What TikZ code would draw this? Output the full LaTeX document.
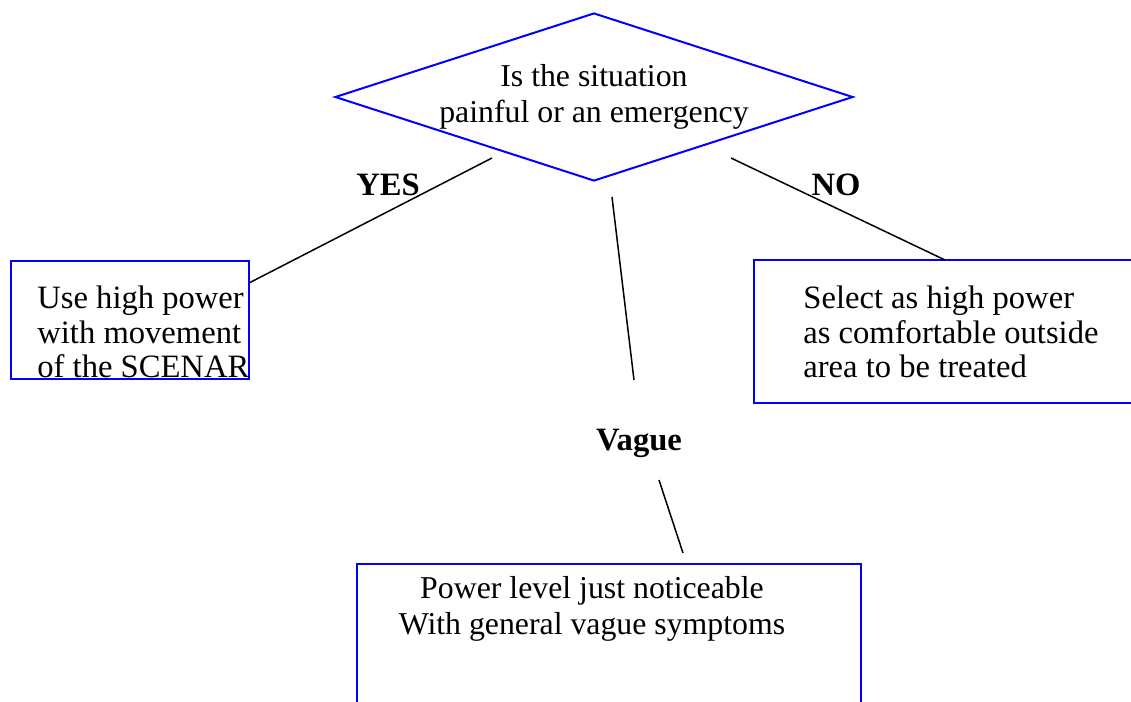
\documentclass[tikz,border=0pt]{standalone}
\usepackage{fontspec}
\setmainfont{Liberation Serif}
\usetikzlibrary{positioning, shapes.geometric}

\tikzset{
  box/.style={draw=blue, line width=1pt, inner sep=0pt},
  boxtext/.style={font=\fontsize{16.3}{17.3}\selectfont, align=left, inner sep=0pt},
  answer/.style={font=\fontsize{16.3}{17.3}\selectfont\bfseries, inner sep=0pt},
  link/.style={black, line width=0.75pt}
}

\begin{document}
\begin{tikzpicture}[x=0.5pt, y=-0.5pt]
    \clip (0,0) rectangle (1131,702);

    % Draw question
    \node[diamond, draw=blue, line width=1pt, minimum width=259pt, minimum height=84pt, aspect=3.08, inner sep=0pt,
          align=center, font=\fontsize{15.9}{18}\selectfont] (question) at (594,97) {Is the situation\\painful or an emergency};

    % Draw boxes
    \node[box, minimum width=119pt, minimum height=59pt] (high) at (130,320) {};
    \node[box, minimum width=200pt, minimum height=71.5pt] (select) at (954,331.5) {};
    \node[box, minimum width=252pt, minimum height=80pt] (level) at (609,644) {};

    % Box texts
    \node[boxtext, anchor=west] (hightext) at (37,332) {Use high power\\with movement\\of the SCENAR};
    \node[boxtext, anchor=west] (selecttext) at (803,332) {Select as high power\\as comfortable outside\\area to be treated};
    \node[boxtext, align=center, font=\fontsize{15.9}{18}\selectfont] (leveltext) at (592,609) {Power level just noticeable\\With general vague symptoms};

    % Answers
    \foreach \n/\x/\y/\t in {yes/388/185/YES, no/836/185/NO, vague/639/443/Vague} {
      \node[answer] (\n) at (\x,\y) {\t};
    }

    % Draw connectors
    \coordinate (yesstart) at (492,158);
    \coordinate (yesend) at (249,283);
    \coordinate (nostart) at (731,158);
    \coordinate (noend) at (945,260);
    \coordinate (midstart) at (612,197);
    \coordinate (midend) at (634,380);
    \coordinate (vaguestart) at (659,480);
    \coordinate (vagueend) at (683,553);
    \draw[link] (yesstart) -- (yesend);
    \draw[link] (nostart) -- (noend);
    \draw[link] (midstart) -- (midend);
    \draw[link] (vaguestart) -- (vagueend);

\end{tikzpicture}
\end{document}
